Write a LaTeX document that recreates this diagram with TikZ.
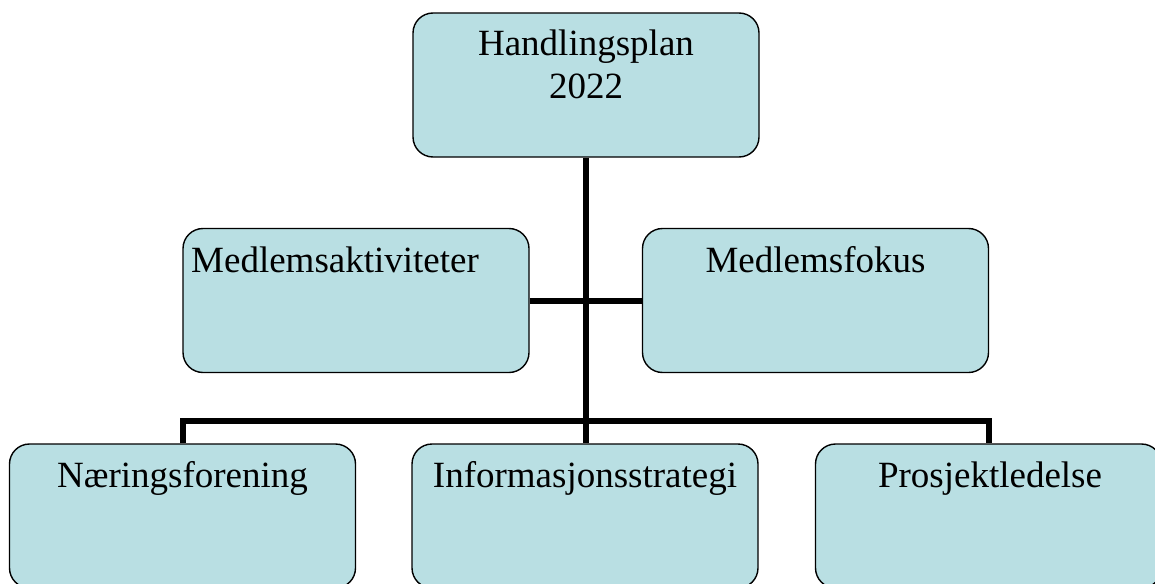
\documentclass[tikz,border=0pt]{standalone}
\usepackage{fontspec}
\setmainfont{Liberation Serif}
\definecolor{boxfill}{HTML}{B9DFE3}
\begin{document}
\begin{tikzpicture}[x=1pt,y=-1pt,
  orgbox/.style={draw=black,line width=1.4pt,fill=boxfill,rounded corners=20pt,
    minimum width=346pt,minimum height=144pt,inner sep=0pt},
  lbl/.style={inner sep=0pt,anchor=base,font=\fontsize{37}{43}\selectfont},
  conn/.style={line width=6pt}]
\useasboundingbox (0,0) rectangle (1155,583);
% boxes
\node[orgbox] (top) at (586,85) {};
\node[orgbox] (ml) at (356,300.5) {};
\node[orgbox] (mr) at (815.5,300.5) {};
\node[orgbox] (b1) at (182.5,516) {};
\node[orgbox] (b2) at (585,516) {};
\node[orgbox] (b3) at (988.5,516) {};
% connectors (drawn before labels, after boxes)
\coordinate (jm) at (586,301);
\coordinate (jb) at (586,421);
\draw[conn] (top.south) -- (jb);
\draw[conn] (ml.east |- jm) -- (mr.west |- jm);
\draw[conn] (b1.north) -- (b1.north |- jb) -- (b3.north |- jb) -- (b3.north);
\draw[conn] (jb) -- (b2.north -| jb);
% labels
\node[lbl] (t1) at (586,56) {Handlingsplan};
\node[lbl] (t2) at (586,99) {2022};
\node[lbl,anchor=base west] (t3) at (191,272) {Medlemsaktiviteter};
\node[lbl] (t4) at (815.5,272) {Medlemsfokus};
\node[lbl] (t5) at (182.5,487) {Næringsforening};
\node[lbl] (t6) at (585,487) {Informasjonsstrategi};
\node[lbl] (t7) at (990,487) {Prosjektledelse};
\end{tikzpicture}
\end{document}
